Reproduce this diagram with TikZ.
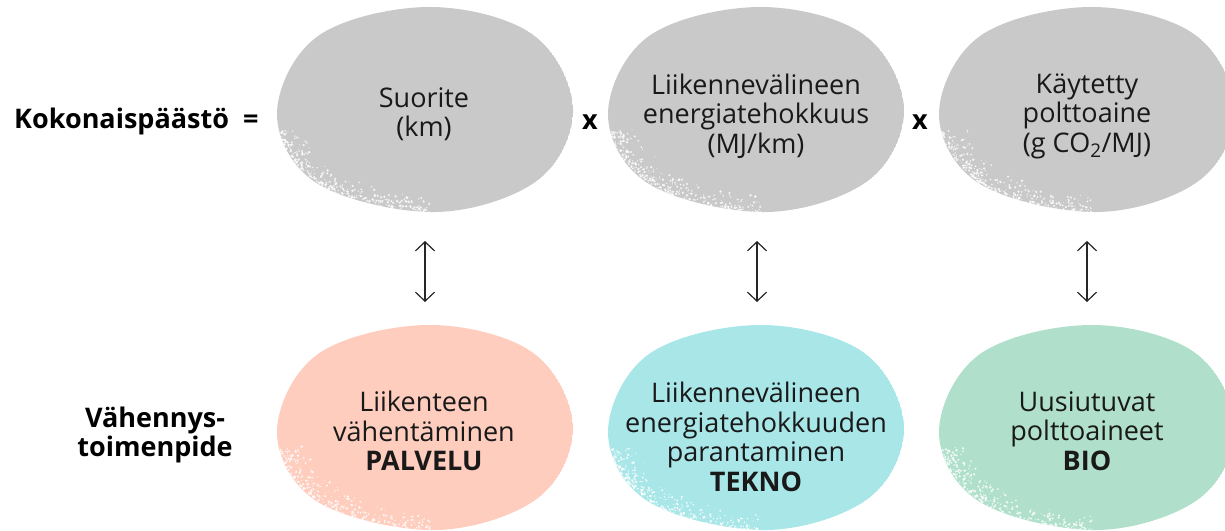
\documentclass[tikz,border=0pt]{standalone}
\usepackage{fontspec}
\setmainfont{Open Sans}
\usetikzlibrary{arrows.meta}
\definecolor{blobgray}{HTML}{C9C9C9}
\definecolor{blobpink}{HTML}{FECDBE}
\definecolor{blobcyan}{HTML}{A8E6E8}
\definecolor{blobmint}{HTML}{B0E0CC}
\tikzset{
  lbl/.style={align=center, font=\fontsize{27}{29.5}\selectfont, text=black!90, inner sep=0pt},
  side/.style={align=center, font=\fontsize{27}{29.5}\selectfont\bfseries, text=black, inner sep=0pt},
  link/.style={draw=black!85, line width=1.2pt, {Straight Barb[length=9pt,width=19pt]}-{Straight Barb[length=9pt,width=19pt]}},
}
\newcommand{\blobpathof}[2]{% #1 dx #2 dy
  plot[smooth cycle, tension=0.6] coordinates {
    ({#1+277},{#2+114}) ({#1+318},{#2+36}) ({#1+428},{#2+7}) ({#1+532},{#2+34})
    ({#1+573},{#2+108}) ({#1+538},{#2+180}) ({#1+436},{#2+212}) ({#1+318},{#2+184})}
}
\newcommand{\drawblob}[3]{% #1 dx #2 dy #3 color
  \begin{scope}
    \clip \blobpathof{#1}{#2};
    \fill[#3] \blobpathof{#1}{#2};
    \pgfmathsetseed{\number\numexpr #1+#2+7\relax}
    \foreach \i in {1,...,380}{
      \pgfmathsetmacro{\blobt}{88+80*rnd}
      \pgfmathsetmacro{\blobr}{1-0.2*rnd*rnd}
      \pgfmathsetmacro{\blobs}{0.4+1.0*rnd}
      \fill[white, opacity=0.8] ({#1+425+150*\blobr*cos(\blobt)},{#2+110+104*\blobr*sin(\blobt)}) circle[radius=\blobs];
    }
  \end{scope}
}
\begin{document}
\begin{tikzpicture}[x=1pt,y=-1pt]
\useasboundingbox (0,0) rectangle (1225,530);
% top blobs
\drawblob{0}{0}{blobgray}
\drawblob{331}{0}{blobgray}
\drawblob{662}{0}{blobgray}
% bottom blobs
\drawblob{0}{318}{blobpink}
\drawblob{331}{318}{blobcyan}
\drawblob{662}{318}{blobmint}
% texts
\node[side, anchor=west] (total) at (14,121) {Kokonaispäästö\ \ =};
\node[lbl] (suor) at (424,114) {Suorite\\(km)};
\node[side] (x1) at (590,122) {x};
\node[lbl] (ene) at (756,116) {Liikennevälineen\\energiatehokkuus\\(MJ/km)};
\node[side] (x2) at (920,122) {x};
\node[lbl] (fuel) at (1087,116) {Käytetty\\polttoaine\\(g CO\textsubscript{2}/MJ)};
\node[side] (red) at (155,435) {Vähennys-\\toimenpide};
\node[lbl] (palv) at (424,431) {Liikenteen\\vähentäminen\\\textbf{PALVELU}};
\node[lbl] (tekn) at (756,437) {Liikennevälineen\\energiatehokkuuden\\parantaminen\\\textbf{TEKNO}};
\node[lbl] (bio) at (1087,431) {Uusiutuvat\\polttoaineet\\\textbf{BIO}};
% arrows
\coordinate (a1t) at (425,241); \coordinate (a1b) at (425,302);
\coordinate (a2t) at (757,241); \coordinate (a2b) at (757,302);
\coordinate (a3t) at (1087,241); \coordinate (a3b) at (1087,302);
\draw[link] (a1t) -- (a1b);
\draw[link] (a2t) -- (a2b);
\draw[link] (a3t) -- (a3b);
\end{tikzpicture}
\end{document}
